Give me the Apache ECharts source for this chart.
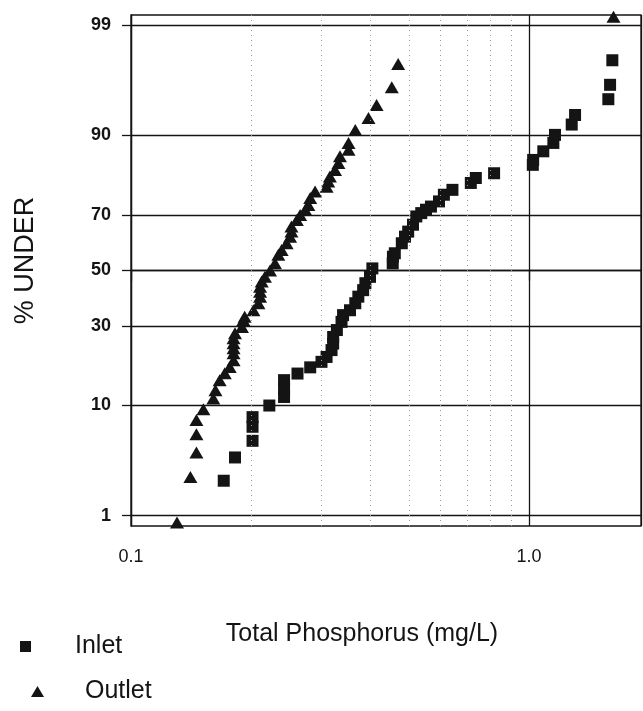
<!DOCTYPE html>
<html>
<head>
<meta charset="utf-8">
<script src="https://cdn.jsdelivr.net/npm/echarts@6/dist/echarts.min.js"></script>
<style>
html,body{margin:0;padding:0;background:#fff;}
#chart{width:643px;height:711px;}
</style>
</head>
<body>
<div id="chart"></div>
<script>
// Inlet: Total Phosphorus (mg/L) and cumulative % under
const inletTP = [0.171,0.1825,0.202,0.202,0.202,0.2226,0.2424,0.2424,0.2424,0.262,0.282,0.301,0.310,0.319,0.322,0.322,0.329,0.338,0.341,0.355,0.366,0.3725,0.383,0.388,0.3985,0.404,0.4545,0.455,0.46,0.479,0.488,0.497,0.511,0.521,0.536,0.551,0.567,0.594,0.611,0.642,0.714,0.735,0.817,1.022,1.024,1.086,1.151,1.162,1.280,1.305,1.582,1.598,1.619];
const inletPct = [2.3,3.8,5.3,6.9,8.2,10.0,11.5,13.1,14.9,16.4,17.9,19.3,20.6,22.5,24.4,26.4,28.6,31.3,33.6,35.3,37.8,40.2,42.6,45.2,47.6,50.8,52.7,55.2,56.5,60.2,62.6,64.4,66.8,69.6,70.7,71.8,72.8,74.4,76.4,77.8,79.7,81.0,82.2,84.2,85.3,87.1,88.7,90.1,91.7,93.0,94.8,96.1,97.7];
// Outlet
const outletTP = [0.1305,0.141,0.146,0.146,0.146,0.152,0.161,0.163,0.167,0.172,0.177,0.181,0.181,0.181,0.181,0.181,0.1825,0.190,0.1915,0.193,0.203,0.209,0.211,0.211,0.211,0.213,0.217,0.2235,0.230,0.2345,0.239,0.246,0.251,0.253,0.253,0.261,0.266,0.274,0.279,0.282,0.290,0.310,0.313,0.316,0.3255,0.332,0.335,0.352,0.352,0.366,0.395,0.414,0.452,0.469,1.63];
const outletPct = [0.84,2.5,4.2,6.0,7.8,9.4,11.2,12.8,14.9,16.5,18.0,19.7,21.6,23.0,24.5,26.0,27.6,29.6,31.9,33.0,35.3,37.8,40.2,42.0,43.9,45.8,47.6,50.0,52.7,55.9,57.7,60.2,62.6,64.4,66.2,68.4,70.1,71.8,73.3,75.4,77.3,78.7,80.1,81.4,83.0,84.6,86.1,87.4,88.7,90.9,92.6,94.2,95.9,97.5,99.2];
// Axis ticks
const yTickPct = [1,10,30,50,70,90,99];
const xMinorLines = [0.2,0.3,0.4,0.5,0.6,0.7,0.8,0.9];

// normal probability scale: percent -> standard normal quantile
function probit(pct){
  const p = pct/100;
  const a=[-3.969683028665376e+01,2.209460984245205e+02,-2.759285104469687e+02,1.383577518672690e+02,-3.066479806614716e+01,2.506628277459239e+00];
  const b=[-5.447609879822406e+01,1.615858368580409e+02,-1.556989798598866e+02,6.680131188771972e+01,-1.328068155288572e+01];
  const c=[-7.784894002430293e-03,-3.223964580411365e-01,-2.400758276161838e+00,-2.549732512897329e+00,4.374664141464968e+00,2.938163982698783e+00];
  const d=[7.784695709041462e-03,3.224671290700398e-01,2.445134137142996e+00,3.754408661907416e+00];
  const pl=0.02425, ph=1-pl;
  let q,r;
  if(p<pl){
    q=Math.sqrt(-2*Math.log(p));
    return (((((c[0]*q+c[1])*q+c[2])*q+c[3])*q+c[4])*q+c[5])/((((d[0]*q+d[1])*q+d[2])*q+d[3])*q+1);
  } else if(p<=ph){
    q=p-0.5; r=q*q;
    return (((((a[0]*r+a[1])*r+a[2])*r+a[3])*r+a[4])*r+a[5])*q/(((((b[0]*r+b[1])*r+b[2])*r+b[3])*r+b[4])*r+1);
  } else {
    q=Math.sqrt(-2*Math.log(1-p));
    return -(((((c[0]*q+c[1])*q+c[2])*q+c[3])*q+c[4])*q+c[5])/((((d[0]*q+d[1])*q+d[2])*q+d[3])*q+1);
  }
}

const yTickZ = yTickPct.map(probit);
const inletData = inletTP.map((v,i)=>[v, probit(inletPct[i])]);
const outletData = outletTP.map((v,i)=>[v, probit(outletPct[i])]);

const FONT = "'Liberation Sans', Arial, sans-serif";
const INK = '#141414';

const chart = echarts.init(document.getElementById('chart'), null, {renderer:'canvas'});
chart.setOption({
  animation:false,
  backgroundColor:'#fff',
  grid:{left:131, right:2, top:15, bottom:185, show:true, borderColor:INK, borderWidth:1.3,
        backgroundColor:'transparent', containLabel:false, outerBoundsMode:'none'},
  xAxis:{
    type:'log', logBase:10, min:0.1, max:1.911,
    name:'Total Phosphorus (mg/L)', nameLocation:'middle', nameGap:96,
    nameTextStyle:{fontFamily:FONT, fontSize:25, color:INK, padding:[0,48,0,0]},
    axisLine:{show:true, lineStyle:{color:INK, width:1.3}},
    axisTick:{show:true, length:10, lineStyle:{color:INK, width:1.3}},
    axisLabel:{margin:22, fontFamily:FONT, fontSize:18, color:INK,
      showMaxLabel:false, formatter:v=>Number(v).toFixed(1)},
    splitLine:{show:true, lineStyle:{color:INK, width:1.3}},
    minorTick:{show:false}, minorSplitLine:{show:false}
  },
  yAxis:{
    type:'value', min:-2.425, max:2.425,
    name:'% UNDER', nameLocation:'middle', nameGap:92,
    nameTextStyle:{fontFamily:FONT, fontSize:27, color:INK, padding:[0,0,0,20]},
    axisLine:{show:true, lineStyle:{color:INK, width:1.3}},
    axisTick:{show:true, length:9, customValues:yTickZ, lineStyle:{color:INK, width:1.3}},
    axisLabel:{margin:20, fontFamily:FONT, fontSize:18, fontWeight:'bold', color:INK, customValues:yTickZ,
      formatter:function(v){
        let best=0, bd=1e9;
        yTickZ.forEach((z,i)=>{const dd=Math.abs(z-v); if(dd<bd){bd=dd;best=i;}});
        return String(yTickPct[best]);
      }},
    splitLine:{show:true, lineStyle:{color:INK, width:1.3}}
  },
  legend:[
    {data:['Inlet'], orient:'vertical', left:15, top:629, icon:'rect', itemWidth:11, itemHeight:11,
     textStyle:{fontFamily:FONT, fontSize:25, color:INK, padding:[0,0,0,39]}},
    {data:['Outlet'], orient:'vertical', left:26, top:674, icon:'triangle', itemWidth:13, itemHeight:11,
     textStyle:{fontFamily:FONT, fontSize:25, color:INK, padding:[0,0,0,36]}}
  ],
  series:[
    {name:'Inlet', type:'scatter', symbol:'rect', symbolSize:12, data:inletData,
     itemStyle:{color:INK, opacity:1},
     markLine:{silent:true, symbol:['none','none'], label:{show:false},
       lineStyle:{color:'#9a9a9a', type:[1,4], width:1},
       data:xMinorLines.map(v=>({xAxis:v}))}},
    {name:'Outlet', type:'scatter', symbol:'triangle', symbolSize:[14,12], data:outletData,
     itemStyle:{color:INK, opacity:1}}
  ]
});
</script>
</body>
</html>
